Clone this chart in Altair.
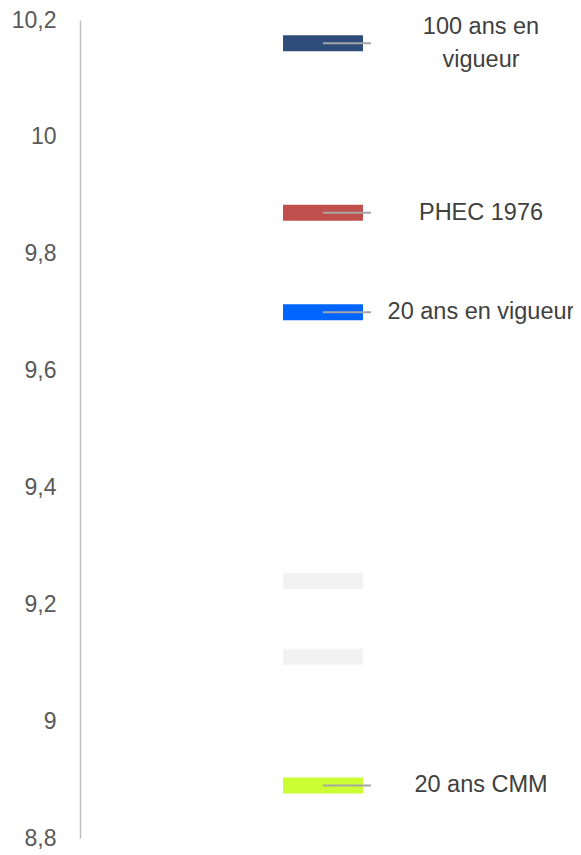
import altair as alt
import pandas as pd

# Data
series = ["100 ans en vigueur", "PHEC 1976", "20 ans en vigueur", "gris 1", "gris 2", "20 ans CMM"]
values = [10.16, 9.87, 9.70, 9.24, 9.11, 8.89]
labels = ["100 ans en\nvigueur", "PHEC 1976", "20 ans en vigueur", "", "", "20 ans CMM"]
colors = ["#2E4D7B", "#C0504D", "#0066FF", "#F2F2F2", "#F2F2F2", "#CCFF33"]
y_ticks = [8.8, 9.0, 9.2, 9.4, 9.6, 9.8, 10.0, 10.2]

# Layout / style constants (x-scale units == pixels of plot area)
W, H = 483, 818
BAR_X = 243
LEADER_X1, LEADER_X2 = 243, 291
LABEL_X = 401
LINE_H = 33

df = pd.DataFrame({"serie": series, "valeur": values, "label": labels, "couleur": colors})
df["bx"] = BAR_X
df["lx1"] = LEADER_X1
df["lx2"] = LEADER_X2
df["tx"] = LABEL_X
lab = df[df["label"] != ""]
lab1 = lab[~lab["label"].str.contains("\n")]
lab2 = lab[lab["label"].str.contains("\n")]

xs = alt.Scale(domain=[0, W], range=[0, W])
ys = alt.Scale(domain=[8.8, 10.2], nice=False, zero=False)

yaxis = alt.Axis(
    values=y_ticks,
    labelExpr="replace(format(datum.value, '.1~f'), '.', ',')",
    grid=False, ticks=False, tickSize=0, labelPadding=24,
    domainColor="#BFBFBF", domainWidth=1.5,
    labelColor="#595959", labelFontSize=23, labelFont="Liberation Sans",
    title=None, labelOverlap=False,
)

base = alt.Chart(df)

bars = base.mark_tick(orient="horizontal", size=80, thickness=16, opacity=1).encode(
    x=alt.X("bx:Q", scale=xs, axis=None),
    y=alt.Y("valeur:Q", scale=ys, axis=yaxis),
    color=alt.Color("couleur:N", scale=None),
)

leaders = alt.Chart(lab).mark_rule(color="#A6A6A6", strokeWidth=2).encode(
    x=alt.X("lx1:Q", scale=xs, axis=None),
    x2="lx2:Q",
    y=alt.Y("valeur:Q", scale=ys),
)

text_style = dict(align="center", baseline="middle", lineBreak="\n", lineHeight=LINE_H,
                  font="Liberation Sans", fontSize=23.5, color="#404040")

texts1 = alt.Chart(lab1).mark_text(**text_style).encode(
    x=alt.X("tx:Q", scale=xs, axis=None),
    y=alt.Y("valeur:Q", scale=ys),
    text="label:N",
)
texts2 = alt.Chart(lab2).mark_text(dy=-LINE_H / 2, **text_style).encode(
    x=alt.X("tx:Q", scale=xs, axis=None),
    y=alt.Y("valeur:Q", scale=ys),
    text="label:N",
)

chart = alt.layer(bars, leaders, texts1, texts2).properties(
    width=W, height=H,
    autosize=alt.AutoSizeParams(type="none"),
    padding={"left": 72, "top": 12, "right": 10, "bottom": 14},
).configure_view(strokeWidth=0)

chart.save("out.html", embed_options={"renderer": "svg", "actions": False})
